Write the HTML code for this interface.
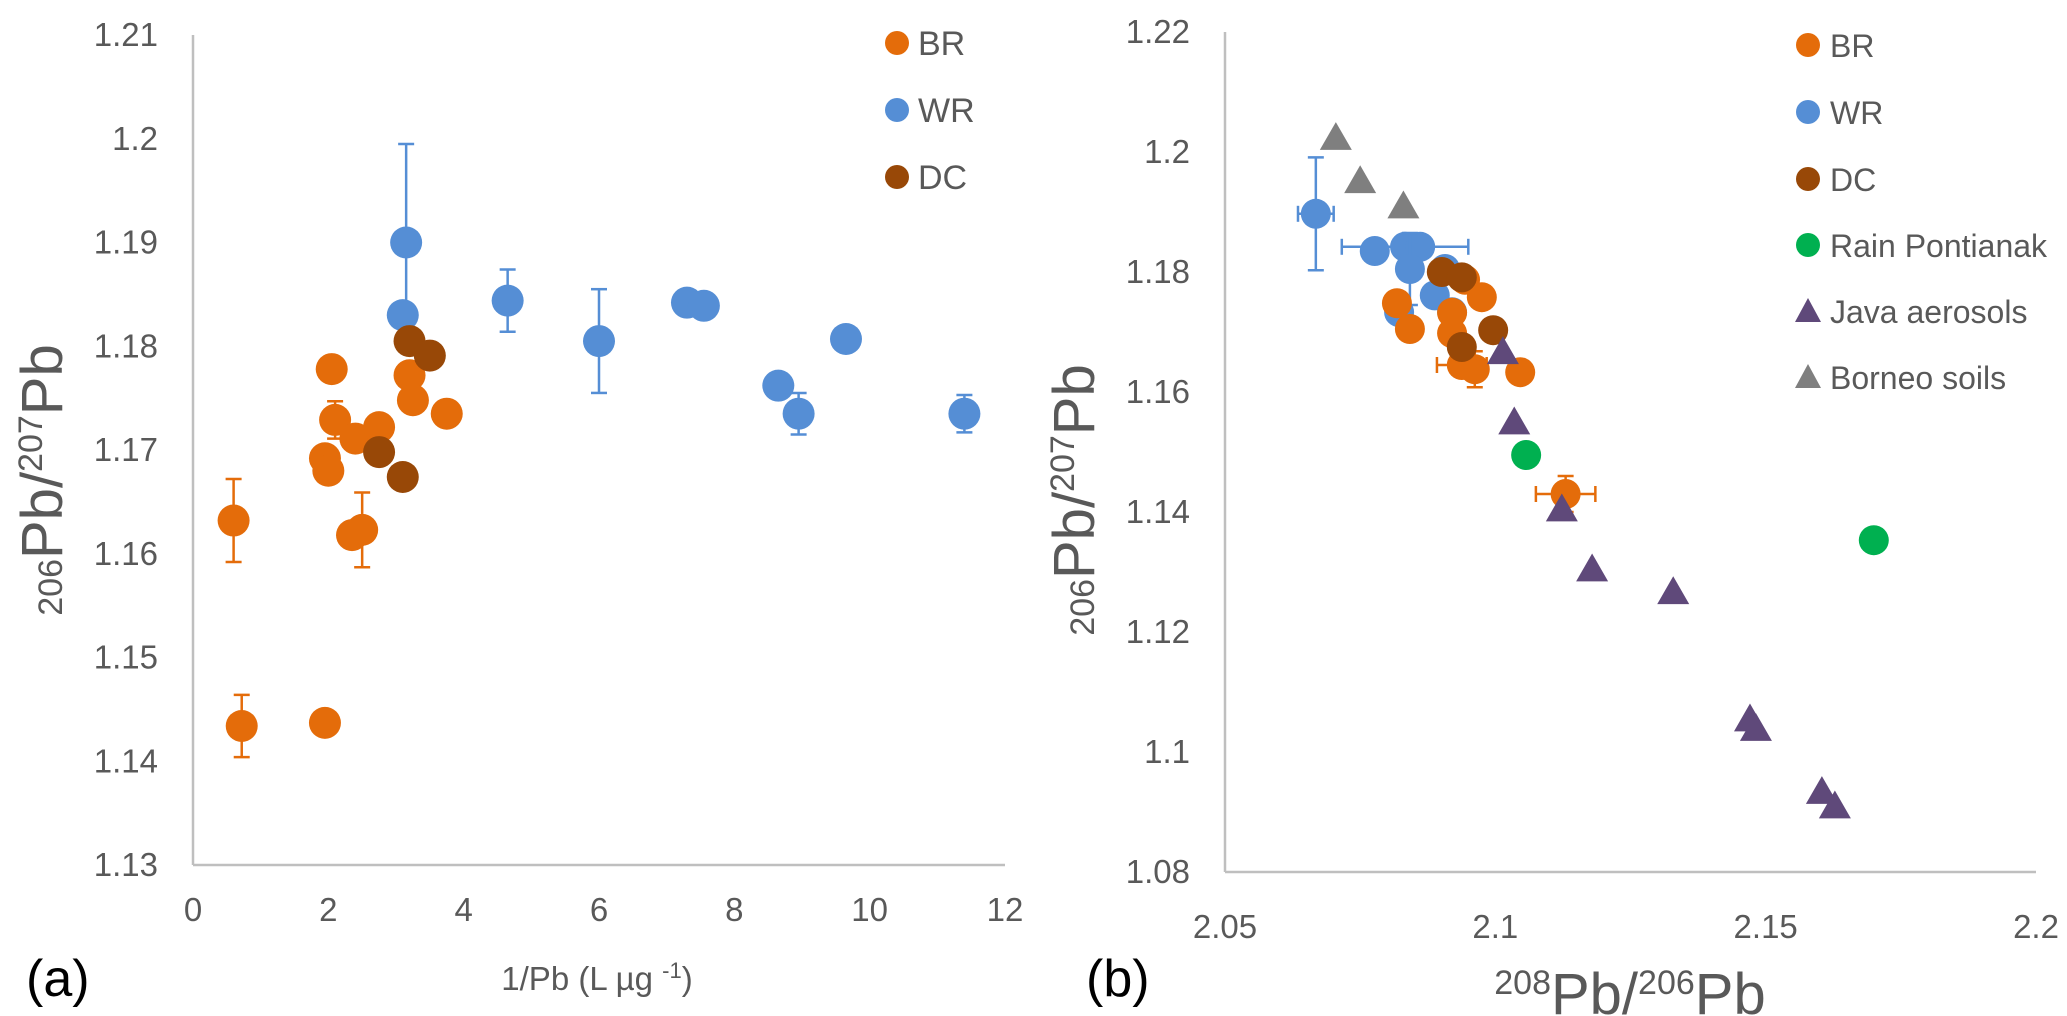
<!DOCTYPE html>
<html><head><meta charset="utf-8"><style>
html,body{margin:0;padding:0;background:#fff;}
svg{display:block;font-family:"Liberation Sans",sans-serif;}
</style></head><body>
<svg id="chart" width="2067" height="1016" viewBox="0 0 2067 1016"></svg>
<script>
// ---------- Panel (a) data ----------
const aBRx = [0.6,0.72,1.95,2.05,2.1,1.95,2.0,2.4,2.75,2.35,2.5,3.2,3.25,3.75];
const aBRy = [1.1632,1.1434,1.1437,1.1778,1.1729,1.1692,1.1680,1.1711,1.1722,1.1618,1.1623,1.1772,1.1748,1.1735];
const aBRerr = [0.004,0.003,0,0,0.0018,0,0,0,0,0,0.0036,0,0,0];
const aWRx = [3.15,3.1,4.65,6.0,7.3,7.55,8.65,8.95,9.65,11.4];
const aWRy = [1.19,1.183,1.1844,1.1805,1.1842,1.1839,1.1762,1.1735,1.1807,1.1735];
const aWRerr = [0.0095,0,0.003,0.005,0,0,0,0.002,0.001,0.0018];
const aDCx = [3.2,3.5,2.75,3.1];
const aDCy = [1.1805,1.1791,1.1698,1.1674];
const aXticks = [0,2,4,6,8,10,12];
const aYticks = [1.13,1.14,1.15,1.16,1.17,1.18,1.19,1.2,1.21];
const aYlabels = ["1.13","1.14","1.15","1.16","1.17","1.18","1.19","1.2","1.21"];

// ---------- Panel (b) data ----------
const bBRx = [2.0818,2.0842,2.0944,2.0975,2.092,2.092,2.0938,2.0962,2.1046,2.113];
const bBRy = [1.1748,1.1705,1.1787,1.1758,1.1732,1.1698,1.1645,1.1638,1.1633,1.143];
const bBRxerr = [0.0008,0,0,0,0,0,0.0046,0,0,0.0055];
const bBRyerr = [0,0,0,0,0,0,0.0015,0.003,0,0.003];
const bWRx = [2.0668,2.0777,2.0833,2.0861,2.0842,2.0907,2.0888,2.092,2.0822];
const bWRy = [1.1897,1.1835,1.1842,1.1842,1.1805,1.1805,1.1761,1.1733,1.1733];
const bWRxerr = [0.0033,0,0.0117,0,0,0,0,0,0];
const bWRyerr = [0.0094,0,0,0,0.006,0,0,0,0];
const bDCx = [2.0901,2.0938,2.0996,2.0938];
const bDCy = [1.18,1.1791,1.1703,1.1675];
const bRainx = [2.1057,2.170];
const bRainy = [1.1495,1.1353];
const bJavax = [2.1014,2.1035,2.1123,2.1179,2.1329,2.1471,2.1482,2.1604,2.1628];
const bJavay = [1.1665,1.1548,1.1403,1.1303,1.1265,1.1053,1.1037,1.0932,1.0908];
const bBorx = [2.0705,2.075,2.083];
const bBory = [1.2022,1.1950,1.1908];
const bXticks = [2.05,2.1,2.15,2.2];
const bXlabels = ["2.05","2.1","2.15","2.2"];
const bYticks = [1.08,1.1,1.12,1.14,1.16,1.18,1.2,1.22];
const bYlabels = ["1.08","1.1","1.12","1.14","1.16","1.18","1.2","1.22"];

const C = {BR:"#E46C0A",WR:"#558ED5",DC:"#984807",Rain:"#00B050",Java:"#5F497A",Bor:"#7F7F7F"};
const svg = document.getElementById('chart');
const NS = "http://www.w3.org/2000/svg";
function mk(tag, attrs, parent){
  const e = document.createElementNS(NS, tag);
  for (const k in attrs) e.setAttribute(k, attrs[k]);
  (parent||svg).appendChild(e);
  return e;
}
function txt(x,y,s,size,anchor,parent){
  const t = mk('text',{x:x,y:y,'font-size':size,fill:'#595959','text-anchor':anchor||'middle'},parent);
  t.textContent = s;
  return t;
}

const ax = {x0:193,x1:1005,y0:865,y1:35,xmin:0,xmax:12,ymin:1.13,ymax:1.21,lab:56};
const bx = {x0:1225,x1:2036,y0:872,y1:32,xmin:2.05,xmax:2.2,ymin:1.08,ymax:1.22,lab:66};
function sx(p,v){return p.x0+(v-p.xmin)/(p.xmax-p.xmin)*(p.x1-p.x0);}
function sy(p,v){return p.y0-(v-p.ymin)/(p.ymax-p.ymin)*(p.y0-p.y1);}

function axes(p, xt, xl, yt, yl, name){
  const g = mk('g',{});
  
  
  mk('line',{x1:p.x0,y1:p.y0,x2:p.x1,y2:p.y0,stroke:'#BFBFBF','stroke-width':2.5},g);
  mk('line',{x1:p.x0,y1:p.y0,x2:p.x0,y2:p.y1,stroke:'#BFBFBF','stroke-width':2.5},g);
  xt.forEach((v,i)=>{
    const t = txt(sx(p,v), p.y0+p.lab, xl[i], 33, 'middle', g);
    
    
  });
  yt.forEach((v,i)=>{
    const t = txt(p.x0-35, sy(p,v)+11, yl[i], 33, 'end', g);
    
    
  });
}

function errY(p,x,y,e,col,g){
  if(!e) return;
  const X=sx(p,x), Y1=sy(p,y+e), Y2=sy(p,y-e);
  mk('line',{x1:X,y1:Y1,x2:X,y2:Y2,stroke:col,'stroke-width':2.5},g);
  mk('line',{x1:X-8,y1:Y1,x2:X+8,y2:Y1,stroke:col,'stroke-width':2.5},g);
  mk('line',{x1:X-8,y1:Y2,x2:X+8,y2:Y2,stroke:col,'stroke-width':2.5},g);
}
function errX(p,x,y,e,col,g){
  if(!e) return;
  const Y=sy(p,y), X1=sx(p,x-e), X2=sx(p,x+e);
  mk('line',{x1:X1,y1:Y,x2:X2,y2:Y,stroke:col,'stroke-width':2.5},g);
  mk('line',{x1:X1,y1:Y-8,x2:X1,y2:Y+8,stroke:col,'stroke-width':2.5},g);
  mk('line',{x1:X2,y1:Y-8,x2:X2,y2:Y+8,stroke:col,'stroke-width':2.5},g);
}
function circles(p,xs,ys,col,r,name,ye,xe){
  const g = mk('g',{});
  
  
  xs.forEach((x,i)=>{
    if(ye) errY(p,x,ys[i],ye[i],col,g);
    if(xe) errX(p,x,ys[i],xe[i],col,g);
    const c = mk('circle',{cx:sx(p,x),cy:sy(p,ys[i]),r:r,fill:col},g);
    
    
  });
}
function tris(p,xs,ys,col,s,name){
  const g = mk('g',{});
  
  
  xs.forEach((x,i)=>{
    const X=sx(p,x), Y=sy(p,ys[i]), h=s*0.87;
    const t = mk('polygon',{points:`${X},${Y-h*0.6} ${X-s/2},${Y+h*0.4} ${X+s/2},${Y+h*0.4}`,fill:col},g);
    
    
  });
}
function legend(x,tx,fs,items){
  const g = mk('g',{});
  
  
  items.forEach(it=>{
    const e = mk('g',{},g);
    
    
    if(it[2]==='c') mk('circle',{cx:x,cy:it[1],r:12,fill:it[3]},e);
    else mk('polygon',{points:`${x},${it[1]-13} ${x-13},${it[1]+11} ${x+13},${it[1]+11}`,fill:it[3]},e);
    txt(tx,it[1]+12,it[0],fs,'start',e);
  });
}

axes(ax,aXticks,aXticks.map(String),aYticks,aYlabels,'panel-a');
circles(ax,aBRx,aBRy,C.BR,16,'series-br-a',aBRerr);
circles(ax,aWRx,aWRy,C.WR,16,'series-wr-a',aWRerr);
circles(ax,aDCx,aDCy,C.DC,16,'series-dc-a');
legend(897,918,34,[["BR",43,'c',C.BR],["WR",110,'c',C.WR],["DC",177,'c',C.DC]]);

axes(bx,bXticks,bXlabels,bYticks,bYlabels,'panel-b');
tris(bx,bBorx,bBory,C.Bor,32,'series-borneo-soils');
circles(bx,bWRx,bWRy,C.WR,15,'series-wr-b',bWRyerr,bWRxerr);
circles(bx,bBRx,bBRy,C.BR,15,'series-br-b',bBRyerr,bBRxerr);
circles(bx,bDCx,bDCy,C.DC,15,'series-dc-b');
circles(bx,bRainx,bRainy,C.Rain,15,'series-rain-pontianak');
tris(bx,bJavax,bJavay,C.Java,32,'series-java-aerosols');
legend(1808,1830,32,[["BR",45,'c',C.BR],["WR",112,'c',C.WR],["DC",179,'c',C.DC],["Rain Pontianak",245,'c',C.Rain],["Java aerosols",311,'t',C.Java],["Borneo soils",377,'t',C.Bor]]);
</script>
<div style="position:absolute;left:0;top:0;width:2067px;height:1016px;pointer-events:none;">
<svg width="2067" height="1016" style="position:absolute;left:0;top:0;font-family:'Liberation Sans',sans-serif;">
  <text transform="translate(62,480) rotate(-90)" text-anchor="middle" fill="#595959" font-size="58"><tspan font-size="34" dy="0">206</tspan><tspan dy="0">Pb/</tspan><tspan font-size="34" dy="-20">207</tspan><tspan dy="20">Pb</tspan></text>
  <text x="597" y="990" text-anchor="middle" fill="#595959" font-size="33">1/Pb (L µg <tspan font-size="22" dy="-12">-1</tspan><tspan dy="12">)</tspan></text>
  <text x="26" y="996" fill="#000" font-size="52">(a)</text>
  <text transform="translate(1094,500) rotate(-90)" text-anchor="middle" fill="#595959" font-size="58"><tspan font-size="34">206</tspan><tspan>Pb/</tspan><tspan font-size="34" dy="-20">207</tspan><tspan dy="20">Pb</tspan></text>
  <text x="1630" y="1014" text-anchor="middle" fill="#595959" font-size="58"><tspan font-size="34" dy="-20">208</tspan><tspan dy="20">Pb/</tspan><tspan font-size="34" dy="-20">206</tspan><tspan dy="20">Pb</tspan></text>
  <text x="1086" y="996" fill="#000" font-size="52">(b)</text>
</svg>
</div>
</body></html>
